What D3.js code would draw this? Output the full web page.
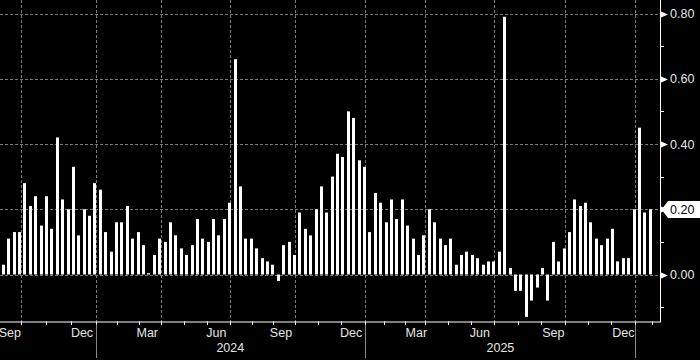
<!DOCTYPE html>
<html><head><meta charset="utf-8">
<script src="https://cdn.jsdelivr.net/npm/d3@7"></script>
<style>
html,body{margin:0;padding:0;background:#000;}
svg{display:block;}
text{font-family:"Liberation Sans",Arial,sans-serif;font-size:12.5px;}
</style></head><body>
<svg id="c" width="700" height="360"></svg>
<script>
// weekly values (one bar per week)
const values = [
 0.03,0.11,0.13,0.13,0.28,0.21,0.24,0.15,0.24,0.14,
 0.42,0.23,0.20,0.33,0.12,0.20,0.18,0.28,0.26,0.13,
 0.07,0.16,0.16,0.21,0.11,0.13,0.09,0.004,0.06,0.11,
 0.10,0.16,0.12,0.08,0.06,0.09,0.17,0.11,0.10,0.17,
 0.12,0.17,0.22,0.66,0.27,0.11,0.11,0.08,0.05,0.04,
 0.03,-0.02,0.09,0.10,0.06,0.19,0.14,0.12,0.20,0.27,
 0.19,0.30,0.37,0.36,0.50,0.48,0.35,0.33,0.13,0.25,
 0.22,0.16,0.23,0.17,0.23,0.15,0.11,0.06,0.12,0.20,
 0.16,0.11,0.09,0.11,0.03,0.06,0.07,0.06,0.05,0.03,
 0.04,0.04,0.07,0.79,0.02,-0.05,-0.05,-0.13,-0.08,-0.04,
 0.02,-0.08,0.10,0.04,0.08,0.13,0.23,0.21,0.22,0.16,
 0.11,0.09,0.11,0.14,0.04,0.05,0.05,0.20,0.45,0.19,
 0.20
];
// y axis
const yMajor = [0, 0.2, 0.4, 0.6, 0.8];
const yMinor = [-0.1, 0.1, 0.3, 0.5, 0.7];
// x axis positions expressed in bar-index units
const quarterLines = [3.23, 17.14, 29.2, 42.1, 54.1, 67.0, 78.2, 91.1, 104.2, 117.1];
const monthTicks = [7.87,12.5,21.17,25.18,33.5,37.8,46.1,50.07,58.37,62.67,70.7,74.43,82.5,86.8,95.47,99.8,108.46,112.76,120.4];
const monthLabels = ["Sep","Dec","Mar","Jun","Sep","Dec","Mar","Jun","Sep","Dec"];
const monthLabelPos = [1.2, 14.6, 26.7, 39.5, 51.5, 64.5, 76.6, 88.4, 102.0, 115.0];
const yearLabels = ["2024","2025"];
const yearLabelPos = [42.1, 92.2];
const yearSeparators = [17.14, 67.0, 117.1];

const svg = d3.select("#c");
const plotRight = 660, plotBottom = 321.5;
const x = d3.scaleLinear().domain([0, values.length - 1]).range([3.3, 650.3]);
const y = d3.scaleLinear().domain([0, 0.8]).range([274.5, 13.5]);
const grid = "#7a7a7a";

svg.append("rect").attr("width",700).attr("height",360).attr("fill","#000");

// horizontal gridlines
svg.append("g").selectAll("line").data(yMajor).join("line")
  .attr("x1",0).attr("x2",plotRight)
  .attr("y1",d=>Math.round(y(d))+0.5).attr("y2",d=>Math.round(y(d))+0.5)
  .attr("stroke",grid).attr("stroke-dasharray","3,2");
// vertical gridlines
svg.append("g").selectAll("line").data(quarterLines).join("line")
  .attr("x1",d=>Math.round(x(d))+0.5).attr("x2",d=>Math.round(x(d))+0.5)
  .attr("y1",0).attr("y2",plotBottom)
  .attr("stroke",grid).attr("stroke-dasharray","3,2");

// bars
svg.append("g").selectAll("rect").data(values).join("rect")
  .attr("x",(d,i)=>Math.round(x(i)-1.5))
  .attr("width",3)
  .attr("y",d=>Math.min(y(d),y(0)))
  .attr("height",d=>Math.max(1,Math.abs(y(d)-y(0))))
  .attr("fill","#fff");

// axis lines
svg.append("line").attr("x1",plotRight+0.5).attr("x2",plotRight+0.5).attr("y1",0).attr("y2",plotBottom+0.5)
  .attr("stroke","#fff");
svg.append("line").attr("x1",0).attr("x2",plotRight+1).attr("y1",plotBottom+0.5).attr("y2",plotBottom+0.5)
  .attr("stroke","#fff");

// right axis ticks
svg.append("g").selectAll("path").data(yMajor).join("path")
  .attr("d",d=>{const yy=Math.round(y(d))+0.5;return `M${plotRight+1},${yy-3}L${plotRight+8},${yy}L${plotRight+1},${yy+3}Z`;})
  .attr("fill","#fff");
svg.append("g").selectAll("line").data(yMinor).join("line")
  .attr("x1",plotRight).attr("x2",plotRight+4)
  .attr("y1",d=>Math.round(y(d))+0.5).attr("y2",d=>Math.round(y(d))+0.5)
  .attr("stroke","#fff");
const last = values[values.length-1];
svg.append("g").selectAll("text").data(yMajor.filter(d=>Math.abs(d-last)>0.05)).join("text")
  .attr("x",670).attr("y",d=>y(d)).attr("dy","0.36em")
  .attr("fill","#e6e6e6").text(d=>d.toFixed(2));

// last value tag
const ly = Math.round(y(last))+0.5;
svg.append("path")
  .attr("d",`M${plotRight+1.5},${ly}L${plotRight+8},${ly-8.5}L700,${ly-8.5}L700,${ly+8.5}L${plotRight+8},${ly+8.5}Z`)
  .attr("fill","#fff");
svg.append("text").attr("x",670).attr("y",ly).attr("dy","0.36em").attr("fill","#000").text(last.toFixed(2));

// bottom axis month ticks
svg.append("g").selectAll("line").data(monthTicks.concat(quarterLines)).join("line")
  .attr("x1",d=>Math.round(x(d))+0.5).attr("x2",d=>Math.round(x(d))+0.5)
  .attr("y1",plotBottom).attr("y2",plotBottom+3.5)
  .attr("stroke","#fff");
// month labels
svg.append("g").selectAll("text").data(monthLabels).join("text")
  .attr("x",(d,i)=>x(monthLabelPos[i])).attr("y",332).attr("dy","0.36em")
  .attr("text-anchor","middle").attr("fill","#e6e6e6").text(d=>d);
// year separators
svg.append("g").selectAll("line").data(yearSeparators).join("line")
  .attr("x1",d=>Math.round(x(d))+0.5).attr("x2",d=>Math.round(x(d))+0.5)
  .attr("y1",plotBottom+3).attr("y2",358)
  .attr("stroke","#8a8a8a");
svg.append("g").selectAll("text").data(yearLabels).join("text")
  .attr("x",(d,i)=>x(yearLabelPos[i])).attr("y",347.5).attr("dy","0.36em")
  .attr("text-anchor","middle").attr("fill","#e6e6e6").text(d=>d);
</script>
</body></html>
